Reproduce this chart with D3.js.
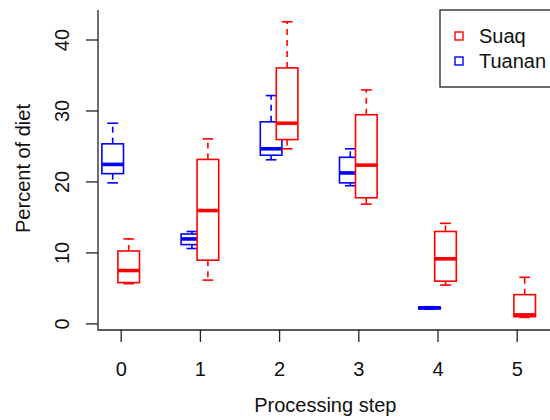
<!DOCTYPE html>
<html>
<head>
<meta charset="utf-8">
<script src="https://cdn.jsdelivr.net/npm/d3@7"></script>
<style>
  html, body { margin: 0; padding: 0; background: #fff; }
  svg { display: block; font-family: "Liberation Sans", Arial, sans-serif; }
</style>
</head>
<body>
<svg id="chart" width="550" height="420"></svg>
<script>
// Processing steps on the x axis
const steps = ["0", "1", "2", "3", "4", "5"];
const yTicks = [0, 10, 20, 30, 40];

// Suaq: whisker low, lower quartile, median, upper quartile, whisker high
const suaqLow    = [5.6, 6.1, 24.6, 16.8, 5.4, 0.85];
const suaqQ1     = [5.75, 8.9, 25.9, 17.7, 5.95, 0.95];
const suaqMedian = [7.45, 15.9, 28.2, 22.3, 9.1, 1.2];
const suaqQ3     = [10.2, 23.1, 36.0, 29.4, 12.95, 4.05];
const suaqHigh   = [11.9, 26.0, 42.5, 32.9, 14.1, 6.5];

// Tuanan (no observations at step 5)
const tuananLow    = [19.8, 10.55, 23.05, 19.4, 2.0, null];
const tuananQ1     = [21.1, 11.1, 23.7, 19.8, 2.05, null];
const tuananMedian = [22.4, 11.9, 24.6, 21.2, 2.2, null];
const tuananQ3     = [25.3, 12.6, 28.4, 23.4, 2.3, null];
const tuananHigh   = [28.2, 12.95, 32.1, 24.6, 2.35, null];

const seriesNames = ["Suaq", "Tuanan"];
const seriesColors = ["#ff0000", "#0000ff"];

function buildStats(low, q1, med, q3, high) {
  return steps.map((s, i) => ({
    step: s, low: low[i], q1: q1[i], median: med[i], q3: q3[i], high: high[i]
  })).filter(d => d.median !== null);
}

const series = [
  { name: seriesNames[1], color: seriesColors[1], offset: -8,
    stats: buildStats(tuananLow, tuananQ1, tuananMedian, tuananQ3, tuananHigh) },
  { name: seriesNames[0], color: seriesColors[0], offset: 8,
    stats: buildStats(suaqLow, suaqQ1, suaqMedian, suaqQ3, suaqHigh) }
];

const svg = d3.select("#chart");
const plot = { left: 98, top: 10, right: 552, bottom: 330 };

const x = d3.scalePoint().domain(steps).range([120.7, 516.7]);
const y = d3.scaleLinear().domain([0, 40]).range([323.4, 39.5]);

const boxW = 21.6, capW = 10.8;
const axisColor = "#222";

// L-shaped frame
svg.append("path")
  .attr("d", `M${plot.left},${plot.top}V${plot.bottom}H${plot.right}`)
  .attr("fill", "none").attr("stroke", axisColor).attr("stroke-width", 1.3);

// Y axis
const yAxis = svg.append("g")
  .attr("transform", `translate(${plot.left},0)`)
  .call(d3.axisLeft(y).tickValues(yTicks).tickSize(12).tickFormat(d3.format("d")));
yAxis.select(".domain").remove();
yAxis.selectAll(".tick line").attr("stroke", axisColor).attr("stroke-width", 1.3);
yAxis.selectAll(".tick text")
  .attr("x", null).attr("dy", null)
  .attr("transform", "translate(-36.5,0) rotate(-90)")
  .attr("text-anchor", "middle")
  .attr("dominant-baseline", "central")
  .attr("fill", "#111")
  .style("font-size", "20px")
  .style("font-family", "'Liberation Sans', Arial, sans-serif");

// X axis
const xAxis = svg.append("g")
  .attr("transform", `translate(0,${plot.bottom})`)
  .call(d3.axisBottom(x).tickSize(12));
xAxis.select(".domain").remove();
xAxis.selectAll(".tick line").attr("stroke", axisColor).attr("stroke-width", 1.3);
xAxis.selectAll(".tick text")
  .attr("y", 46).attr("dy", null)
  .attr("fill", "#111")
  .style("font-size", "20px")
  .style("font-family", "'Liberation Sans', Arial, sans-serif");

// Axis titles
svg.append("text")
  .attr("x", 325.3).attr("y", 412)
  .attr("text-anchor", "middle")
  .attr("fill", "#111")
  .style("font-size", "20px")
  .text("Processing step");

svg.append("text")
  .attr("transform", "translate(23,168.5) rotate(-90)")
  .attr("text-anchor", "middle")
  .attr("dominant-baseline", "central")
  .attr("fill", "#111")
  .style("font-size", "20px")
  .text("Percent of diet");

// Box plots
series.forEach(s => {
  const g = svg.append("g").attr("stroke", s.color).attr("fill", "none");
  const boxes = g.selectAll("g.box").data(s.stats).join("g")
    .attr("class", "box")
    .attr("transform", d => `translate(${x(d.step) + s.offset},0)`);

  // dashed whiskers
  boxes.append("line")
    .attr("x1", 0).attr("x2", 0)
    .attr("y1", d => y(d.q3)).attr("y2", d => y(d.high))
    .attr("stroke-width", 1.6).attr("stroke-dasharray", "6,5");
  boxes.append("line")
    .attr("x1", 0).attr("x2", 0)
    .attr("y1", d => y(d.q1)).attr("y2", d => y(d.low))
    .attr("stroke-width", 1.6).attr("stroke-dasharray", "6,5");

  // whisker caps
  boxes.append("line")
    .attr("x1", -capW / 2).attr("x2", capW / 2)
    .attr("y1", d => y(d.high)).attr("y2", d => y(d.high))
    .attr("stroke-width", 1.6);
  boxes.append("line")
    .attr("x1", -capW / 2).attr("x2", capW / 2)
    .attr("y1", d => y(d.low)).attr("y2", d => y(d.low))
    .attr("stroke-width", 1.6);

  // box
  boxes.append("rect")
    .attr("x", -boxW / 2).attr("width", boxW)
    .attr("y", d => y(d.q3))
    .attr("height", d => y(d.q1) - y(d.q3))
    .attr("fill", "#fff")
    .attr("stroke-width", 1.6);

  // median
  boxes.append("line")
    .attr("x1", -boxW / 2).attr("x2", boxW / 2)
    .attr("y1", d => y(d.median)).attr("y2", d => y(d.median))
    .attr("stroke-width", 3.6);
});

// Legend
const legend = svg.append("g");
legend.append("rect")
  .attr("x", 440).attr("y", plot.top)
  .attr("width", plot.right - 440).attr("height", 77)
  .attr("fill", "#fff").attr("stroke", axisColor).attr("stroke-width", 1.3);

const legendRows = legend.selectAll("g.item").data(seriesNames).join("g")
  .attr("class", "item")
  .attr("transform", (d, i) => `translate(0,${36 + i * 25})`);
legendRows.append("rect")
  .attr("x", 455).attr("y", -4).attr("width", 8).attr("height", 8)
  .attr("fill", "none")
  .attr("stroke", (d, i) => seriesColors[i])
  .attr("stroke-width", 1.4);
legendRows.append("text")
  .attr("x", 479).attr("y", 0)
  .attr("dominant-baseline", "central")
  .attr("fill", "#111")
  .style("font-size", "20px")
  .text(d => d);
</script>
</body>
</html>
